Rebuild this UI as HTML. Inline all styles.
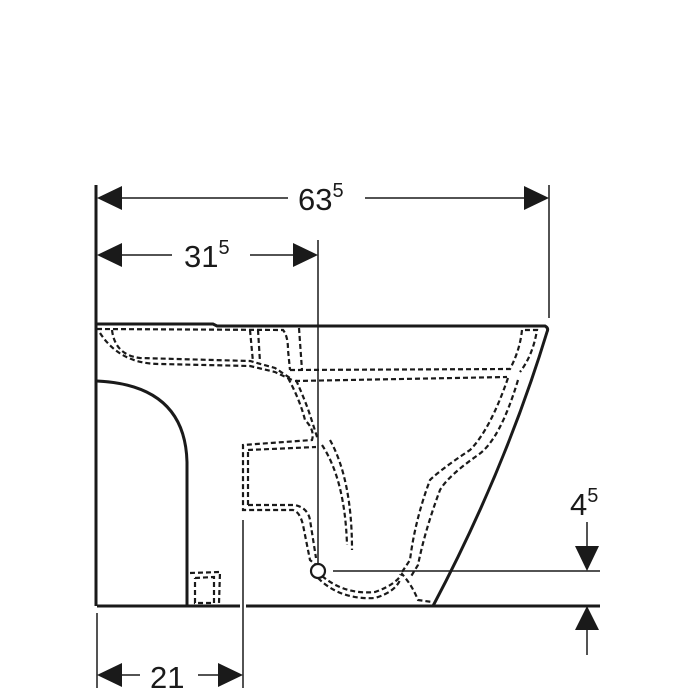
<!DOCTYPE html>
<html><head><style>html,body{margin:0;padding:0;background:#fff}svg{display:block}</style></head><body>
<svg width="700" height="700" viewBox="0 0 700 700" xmlns="http://www.w3.org/2000/svg" font-family="Liberation Sans, sans-serif">
<g fill="none" stroke="#1a1a1a">
<line x1="96" y1="185" x2="96" y2="606" stroke-width="3"/>
<line x1="549" y1="185" x2="549" y2="318" stroke-width="1.5"/>
<line x1="318" y1="240" x2="318" y2="563" stroke-width="1.5"/>
<line x1="115" y1="198" x2="288" y2="198" stroke-width="1.5"/>
<line x1="365" y1="198" x2="530" y2="198" stroke-width="1.5"/>
<line x1="115" y1="255" x2="172" y2="255" stroke-width="1.5"/>
<line x1="250" y1="255" x2="300" y2="255" stroke-width="1.5"/>
<line x1="97" y1="613" x2="97" y2="688" stroke-width="1.5"/>
<line x1="243" y1="520" x2="243" y2="688" stroke-width="1.5"/>
<line x1="115" y1="675" x2="140" y2="675" stroke-width="1.5"/>
<line x1="198" y1="675" x2="225" y2="675" stroke-width="1.5"/>
<line x1="333" y1="571" x2="600" y2="571" stroke-width="1.5"/>
<line x1="587" y1="522" x2="587" y2="555" stroke-width="1.5"/>
<line x1="587" y1="620" x2="587" y2="655" stroke-width="1.5"/>
<path d="M97,324 L213,324 L217,326 L545,326 Q549,328 547,332 Q505,470 433,606" stroke-width="3"/>
<line x1="97" y1="606" x2="240" y2="606" stroke-width="3"/>
<line x1="246" y1="606" x2="600" y2="606" stroke-width="3"/>
<path d="M97,381 Q185,385 187,462 L187,606" stroke-width="3"/>
<circle cx="318" cy="571" r="7" stroke-width="2.2"/>
</g>
<g fill="none" stroke="#1a1a1a" stroke-width="2.2" stroke-dasharray="5,3">
<path d="M97,329 L283,330 Q288,336 288,350 L290,370"/>
<path d="M112,330 Q115,355 140,358 L250,361 L275,368 L290,378"/>
<path d="M250,330 L253,362 M258,330 L260,362"/>
<path d="M100,333 Q120,364 160,364 L250,366 L275,372 L292,380"/>
<path d="M299,328 L302,370"/>
<path d="M290,370 L510,369 Q520,350 522,330 L537,330 Q533,355 520,372"/>
<path d="M295,381 L507,377"/>
<path d="M288,378 Q300,400 305,420 Q315,430 312,440 L243,445 L243,510 L293,510 Q300,512 303,525 L310,560 L316,565"/>
<path d="M296,380 Q305,400 310,415 L318,440"/>
<path d="M322,445 Q345,480 347,545 M330,440 Q352,480 352,550"/>
<path d="M248,450 L316,447 M248,452 L248,505 M248,505 L295,505 Q308,508 310,520 L316,558"/>
<path d="M508,378 Q490,430 470,450 Q440,470 430,480 Q415,520 410,560 L400,575"/>
<path d="M518,380 Q500,440 478,455 Q448,476 440,490 Q425,530 418,565 L410,578"/>
<path d="M322,576 Q345,595 375,592 Q395,585 402,574 Q412,585 418,600 L432,602"/>
<path d="M318,578 Q340,600 375,598 Q395,592 400,580"/>
<path d="M190,573 L220,572 L219,603 M195,578 L214,577 L214,603 L195,603 L195,578"/>
</g>
<g fill="#1a1a1a">
<polygon points="97,198 122,186 122,210"/>
<polygon points="549,198 524,186 524,210"/>
<polygon points="97,255 122,243 122,267"/>
<polygon points="318,255 293,243 293,267"/>
<polygon points="97,675 122,663 122,687"/>
<polygon points="243,675 218,663 218,687"/>
<polygon points="587,571 575,546 599,546"/>
<polygon points="587,606 575,630 599,630"/>
</g>
<g fill="#1a1a1a" font-size="31">
<text x="298" y="210">63<tspan font-size="20" dy="-13">5</tspan></text>
<text x="184" y="267">31<tspan font-size="20" dy="-13">5</tspan></text>
<text x="150" y="688">21</text>
<text x="570" y="515">4<tspan font-size="20" dy="-13">5</tspan></text>
</g>
</svg>
</body></html>
